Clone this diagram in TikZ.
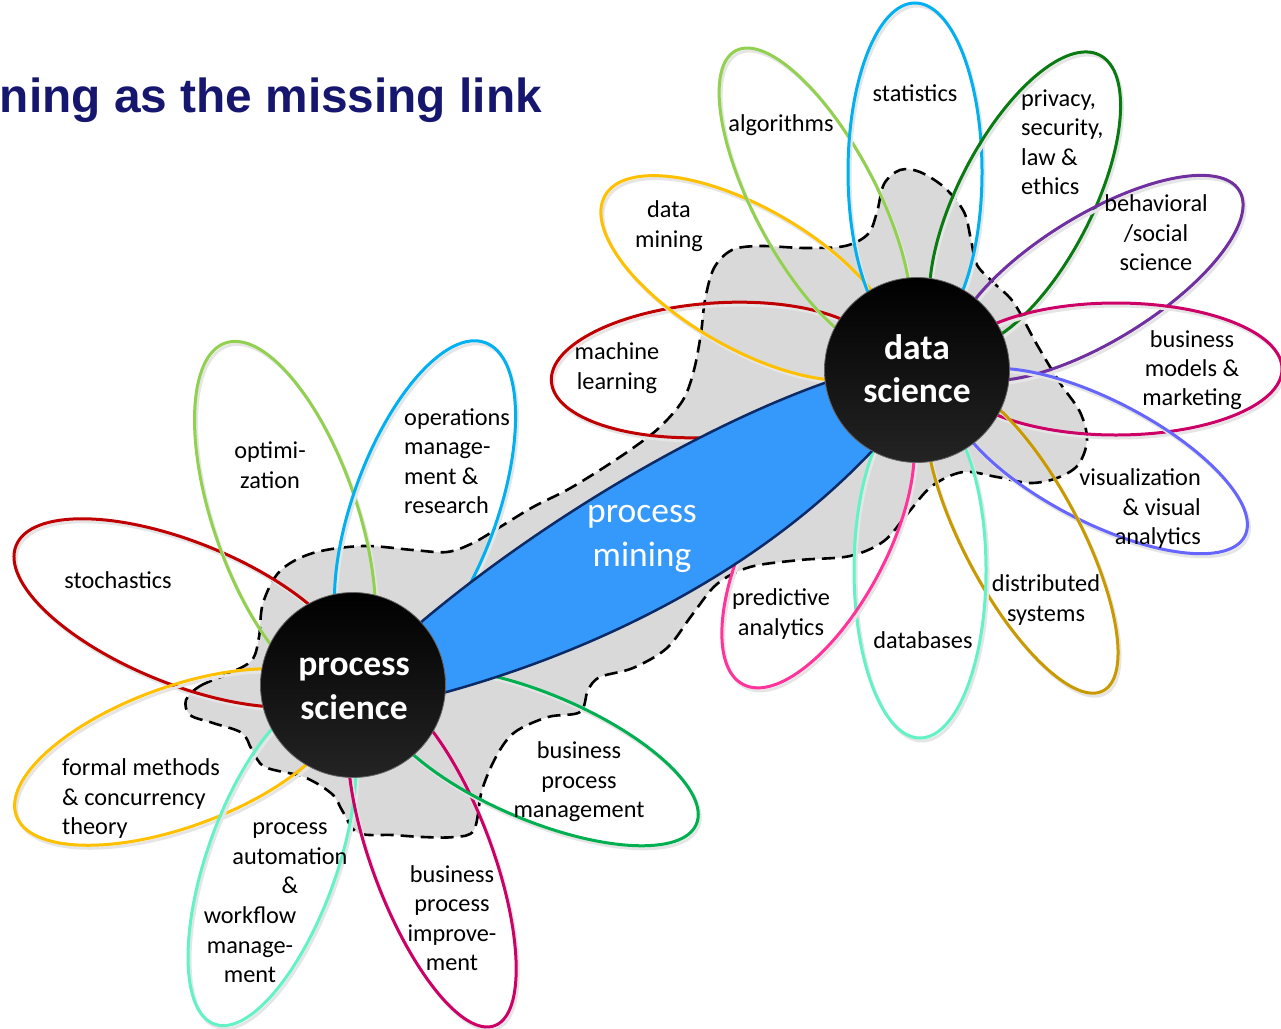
\documentclass[tikz,border=0pt]{standalone}
\usepackage{fontspec}
\setmainfont{Carlito}
\newfontfamily\titlefont{Liberation Sans}
\usetikzlibrary{shadings}
\definecolor{titleblue}{HTML}{16166E}
\definecolor{blobgray}{HTML}{D9D9D9}
\definecolor{bandblue}{HTML}{3598FB}
\definecolor{bandedge}{HTML}{0B2A66}
\definecolor{cRed}{HTML}{C00000}
\definecolor{cLime}{HTML}{92D050}
\definecolor{cCyan}{HTML}{00B0F0}
\definecolor{cOrange}{HTML}{FFC000}
\definecolor{cAqua}{HTML}{62F2C6}
\definecolor{cMagenta}{HTML}{CC0066}
\definecolor{cGreen}{HTML}{00B050}
\definecolor{cDkGreen}{HTML}{0A7A12}
\definecolor{cPurple}{HTML}{7030A0}
\definecolor{cViolet}{HTML}{6666FF}
\definecolor{cGold}{HTML}{C99A00}
\definecolor{cPink}{HTML}{FF3399}
\newcommand\lstrut{\rule[-5.8pt]{0pt}{28.8pt}}
\newcommand\bstrut{\rule[-8.6pt]{0pt}{33.6pt}}
\newcommand\petal[6]{%
  \draw[petalshadow, shift={(#1+2,#2+3)}, rotate={-(#5)}] (0,0) ellipse [x radius=#3pt, y radius=#4pt];
  \draw[petalline, draw=#6, shift={(#1,#2)}, rotate={-(#5)}] (0,0) ellipse [x radius=#3pt, y radius=#4pt];}
\tikzset{
  lab/.style={font=\fontsize{24.3}{29.2}\selectfont, align=center, inner sep=0pt, text=black,
    execute at begin node=\lstrut, execute at end node=\lstrut},
  biglab/.style={font=\fontsize{35.5}{43.8}\selectfont, align=center, inner sep=0pt, text=white,
    execute at begin node=\bstrut, execute at end node=\bstrut},
  hublab/.style={biglab, font=\bfseries\fontsize{35.5}{43.5}\selectfont},
  hub/.style={circle, minimum size=185pt, inner sep=0pt, top color=black, bottom color=black!86,
    draw=black!60, line width=0.8pt},
  petalline/.style={line width=3pt},
  petalshadow/.style={line width=3pt, draw=black!10},
  blob/.style={fill=blobgray, draw=black, line width=2.6pt, dash pattern=on 13pt off 7pt},
  band/.style={fill=bandblue, draw=bandedge, line width=2.5pt, line join=round},
}
\begin{document}
\begin{tikzpicture}[x=1pt,y=-1pt]
\useasboundingbox (0,0) rectangle (1281,1028);
\clip (0,0) rectangle (1281,1028);
\fill[white] (0,0) rectangle (1281,1028);

% gray blob with dashed outline
\path[blob] plot[smooth cycle, tension=0.55] coordinates {
(186,700) (200,686) (230,673) (252,660) (259,637) (263,603) (280,571) (313,553)
(363,546) (413,550) (447,552) (473,543) (500,527) (533,507) (567,490) (600,470)
(633,448) (660,427) (683,400) (694,370) (701,333) (705,300) (714,268) (732,250)
(760,246) (805,248) (845,246) (868,234) (877,212) (884,184) (900,170) (920,172)
(945,188) (964,212) (971,240) (977,265) (995,284) (1014,303) (1036,343) (1060,383)
(1080,412) (1087,440) (1078,465) (1057,478) (1030,483) (997,477) (963,472) (932,486)
(908,513) (884,541) (850,556) (800,560) (750,567) (717,584) (692,615) (667,648)
(633,668) (600,677) (588,690) (580,712) (548,717) (515,732) (497,755) (482,790)
(474,830) (454,837) (423,837) (393,835) (358,833) (343,812) (332,794) (304,777)
(265,767) (252,750) (242,733) (213,723) (190,715)};

% petals of process science
\petal{183}{613}{180}{71}{22}{cRed}
\petal{285}{516}{183}{72}{71}{cLime}
\petal{425}{508}{176}{72}{110}{cCyan}
\petal{178}{757}{172}{70}{-20}{cOrange}
\petal{272}{862}{172}{65}{109.5}{cAqua}
\petal{432}{858}{179}{60}{69.5}{cMagenta}
\petal{538}{757}{172}{63}{23}{cGreen}
% petals of data science
\petal{716}{370}{165}{67}{-4}{cRed}
\petal{748}{278}{165}{70}{30}{cOrange}
\petal{815}{200}{169}{61}{62}{cLime}
\petal{915}{172}{169}{67}{90}{cCyan}
\petal{1025}{200}{163}{67}{117.3}{cDkGreen}
\petal{1097}{278}{167}{63}{-31.6}{cPurple}
\petal{1116}{369}{166}{66}{0}{cMagenta}
\petal{1099}{461}{164}{61}{27.3}{cViolet}
\petal{1022}{538}{173}{58}{62}{cGold}
\petal{920}{570}{168}{66}{90}{cAqua}
\petal{818}{543}{160}{68}{-62}{cPink}

% process mining band
\path[band] (420,623) .. controls (530,530) and (690,430) .. (830,381) -- (917,370) -- (873,450)
  .. controls (760,570) and (600,650) .. (443,693) -- (353,685) -- cycle;

% hubs
\node[hub] (ps) at (353,685) {};
\node[hub] (ds) at (917,370) {};
\node[hublab] (pslab) at (354,693) {process\\science};
\node[hublab] (dslab) at (917,373) {data\\science};
\node[biglab] (pm) at (642,540) {process\\mining};

% title
\node[anchor=base east, inner sep=0pt, text=titleblue,
  font=\titlefont\bfseries\fontsize{47.8}{50}\selectfont] (title) at (542,112) {ning as the missing link};

% labels around process science
\node[lab] (lstoch) at (118,580) {stochastics};
\node[lab] (lopt) at (270,468) {optimi-\\zation};
\node[lab, align=left, anchor=west] (lops) at (404,464) {operations\\manage-\\ment \&\\research};
\node[lab, align=left, anchor=west] (lformal) at (62,799.5) {formal methods\\\& concurrency\\theory};
\node[lab] (lauto) at (290,861) {process\\automation\\\&};
\node[lab] (lwf) at (250,947.5) {workflow\\manage-\\ment};
\node[lab] (lbpi) at (452,921) {business\\process\\improve-\\ment};
\node[lab] (lbpm) at (579,782.5) {business\\process\\management};

% labels around data science
\node[lab] (lml) at (617,369) {machine\\learning};
\node[lab] (ldm) at (669,227) {data\\mining};
\node[lab] (lalg) at (781,123) {algorithms};
\node[lab] (lstat) at (915,93) {statistics};
\node[lab, align=left, anchor=west] (lpriv) at (1021,145) {privacy,\\security,\\law \&\\ethics};
\node[lab] (lbeh) at (1156,235.5) {behavioral\\/social\\science};
\node[lab] (lbm) at (1192,371) {business\\models \&\\marketing};
\node[lab, align=right, anchor=east] (lvis) at (1201,509.5) {visualization\\\& visual\\analytics};
\node[lab] (ldist) at (1046,601) {distributed\\systems};
\node[lab] (ldb) at (923,640) {databases};
\node[lab] (lpred) at (781,615) {predictive\\analytics};
\end{tikzpicture}
\end{document}
